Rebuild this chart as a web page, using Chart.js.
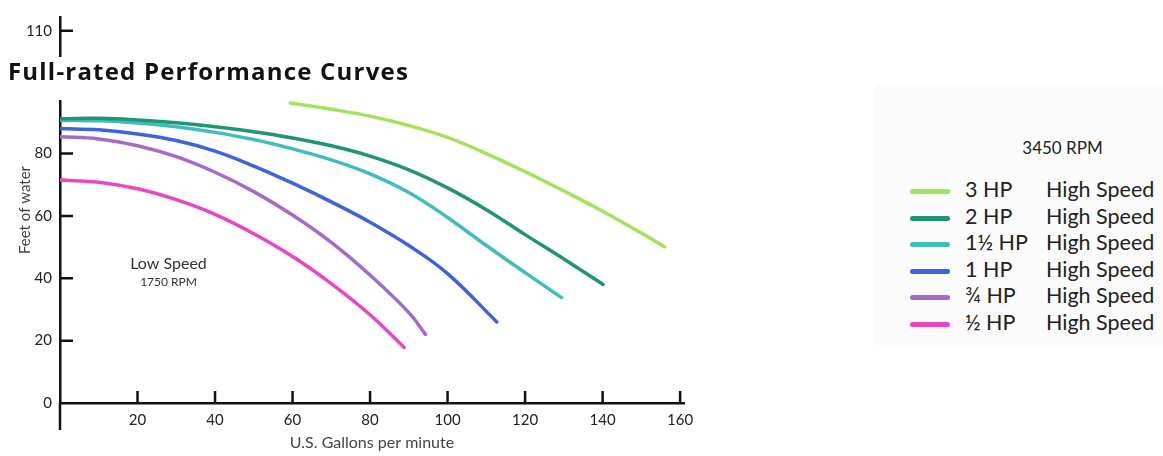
<!DOCTYPE html>
<html>
<head>
<meta charset="utf-8">
<script src="https://cdn.jsdelivr.net/npm/chart.js@4.4.1/dist/chart.umd.min.js"></script>
<style>
  body { margin: 0; background: #fff; font-family: Lato, 'DejaVu Sans', sans-serif; }
  #wrap { position: relative; width: 1163px; height: 456px; overflow: hidden; }
  #chart { position: absolute; left: 0; top: 0; }
  #title {
    position: absolute; left: 0; top: 57px; width: 510px; height: 43px;
    background: #fff; color: #111; font-family: 'Open Sans', sans-serif; font-weight: 700; font-size: 24px;
    letter-spacing: 1.2px; line-height: 28px; padding-left: 8px; box-sizing: border-box;
  }
  #legend {
    position: absolute; left: 875px; top: 85px; width: 288px; height: 260px;
    background: #fbfbfb; color: #222;
  }
  #legend .rpm { position: absolute; left: 0; width: 375px; top: 52px; text-align: center; font-size: 17px; }
  #legend .row { position: absolute; left: 35px; height: 26px; font-size: 21.5px; line-height: 26px; white-space: nowrap; }
  #legend .sw { display: inline-block; width: 40px; height: 5px; border-radius: 3px; vertical-align: middle; margin-right: 15px; }
  #legend .hp { display: inline-block; width: 81px; }
</style>
</head>
<body>
<div id="wrap">
  <canvas id="chart" width="1163" height="456"></canvas>
  <div id="title">Full-rated Performance Curves</div>
  <div id="legend"></div>
</div>
<script>
// pump curves: flow (US gpm) vs head (feet of water)
const hpLabels = ['3 HP', '2 HP', '1½ HP', '1 HP', '¾ HP', '½ HP'];
const speedLabel = 'High Speed';
const colors = ['#a2e25c', '#1f9574', '#3fbcbc', '#3f62e0', '#a56ac9', '#e846c4'];

const gpm3 = [59.4, 70, 80, 90, 100, 110, 120, 130, 140, 150, 156];
const ft3 = [96.2, 94.2, 92, 89, 85.2, 80, 74.2, 68, 61.5, 54.5, 50.1];

const gpm2 = [0, 10, 20, 30, 40, 50, 60, 70, 80, 90, 100, 110, 120, 130, 140.1];
const ft2 = [91.2, 91.3, 90.8, 89.9, 88.6, 87, 85, 82.5, 79.2, 74.8, 69, 62, 54, 46.2, 38];

const gpm15 = [0, 10, 20, 30, 40, 50, 60, 70, 80, 90, 100, 110, 120, 129.4];
const ft15 = [90.6, 90.5, 89.8, 88.6, 86.8, 84.5, 81.5, 78, 73.5, 67.5, 59.5, 50.5, 41.8, 33.8];

const gpm1 = [0, 10, 20, 30, 40, 50, 60, 70, 80, 90, 100, 112.7];
const ft1 = [88, 87.6, 86.3, 84.2, 80.8, 76, 70.5, 64.5, 58, 50.5, 41.5, 26];

const gpm34 = [0, 10, 20, 30, 40, 50, 60, 70, 80, 90, 94.3];
const ft34 = [85.4, 84.7, 82.5, 79, 74, 67.8, 60.3, 51.5, 41, 29, 22];

const gpm12 = [0, 10, 20, 30, 40, 50, 60, 70, 80, 88.8];
const ft12 = [71.5, 70.8, 68.7, 65.2, 60.5, 54.3, 47, 38.3, 28.3, 17.8];

const flows = [gpm3, gpm2, gpm15, gpm1, gpm34, gpm12];
const heads = [ft3, ft2, ft15, ft1, ft34, ft12];

const xTicks = [20, 40, 60, 80, 100, 120, 140, 160];
// the top label of the original sits above the pasted-in title
const yTickValues = [0, 20, 40, 60, 80, 119.4];
const yTickLabels = ['0', '20', '40', '60', '80', '110'];

const lowSpeedNote = ['Low Speed', '1750 RPM'];
const lowSpeedAt = [{ x: 28, y: 44.7 }, { x: 28, y: 38.7 }];

const FONT = 'Lato';

// legend panel
const legend = document.getElementById('legend');
let html = '<div class="rpm">3450 RPM</div>';
hpLabels.forEach((lab, i) => {
  html += `<div class="row" style="top:${91 + i * 26.6}px"><span class="sw" style="background:${colors[i]}"></span>` +
    `<span class="hp">${lab}</span>${speedLabel}</div>`;
});
legend.innerHTML = html;

const extras = {
  id: 'extras',
  afterDraw(chart) {
    const { ctx, chartArea } = chart;
    const x = chart.scales.x, y = chart.scales.y;
    ctx.save();
    ctx.strokeStyle = '#111';
    ctx.lineWidth = 2.5;
    ctx.beginPath();
    x.ticks.forEach((t) => {
      const px = x.getPixelForValue(t.value);
      ctx.moveTo(px, chartArea.bottom);
      ctx.lineTo(px, chartArea.bottom - 12);
    });
    y.ticks.forEach((t) => {
      if (t.value === 0) return;
      const py = y.getPixelForValue(t.value);
      ctx.moveTo(chartArea.left, py);
      ctx.lineTo(chartArea.left + 13, py);
    });
    ctx.moveTo(chartArea.left, chartArea.bottom);
    ctx.lineTo(chartArea.left, chartArea.bottom + 27);
    ctx.stroke();

    ctx.fillStyle = '#333';
    ctx.textAlign = 'center';
    ctx.textBaseline = 'middle';
    ctx.font = `16px ${FONT}`;
    ctx.fillText(lowSpeedNote[0], x.getPixelForValue(lowSpeedAt[0].x), y.getPixelForValue(lowSpeedAt[0].y));
    ctx.font = `12px ${FONT}`;
    ctx.fillText(lowSpeedNote[1], x.getPixelForValue(lowSpeedAt[1].x), y.getPixelForValue(lowSpeedAt[1].y));
    ctx.restore();
  },
};

new Chart(document.getElementById('chart'), {
  type: 'line',
  data: {
    datasets: hpLabels.map((lab, i) => ({
      label: lab + ' ' + speedLabel,
      data: flows[i].map((g, j) => ({ x: g, y: heads[i][j] })),
      borderColor: colors[i],
      borderWidth: 3.5,
      borderCapStyle: 'round',
      pointRadius: 0,
      tension: 0.4,
      fill: false,
    })),
  },
  options: {
    responsive: false,
    animation: false,
    layout: { padding: { top: 9, right: 479, bottom: 0, left: 0 } },
    plugins: { legend: { display: false }, tooltip: { enabled: false } },
    scales: {
      x: {
        type: 'linear',
        min: 0,
        max: 161,
        afterBuildTicks: (s) => { s.ticks = xTicks.map((v) => ({ value: v })); },
        afterFit: (s) => { s.height = 53; },
        grid: { display: false, drawTicks: false },
        border: { display: true, color: '#111', width: 2.5 },
        ticks: { padding: 8, color: '#222', font: { family: FONT, size: 15 } },
        title: {
          display: true,
          text: 'U.S. Gallons per minute',
          color: '#444',
          font: { family: FONT, size: 16 },
          padding: { top: 0, bottom: 4 },
        },
      },
      y: {
        type: 'linear',
        min: 0,
        max: 123.8,
        afterBuildTicks: (s) => { s.ticks = yTickValues.map((v) => ({ value: v })); },
        afterFit: (s) => { s.width = 60; },
        grid: { display: false, drawTicks: false },
        border: { display: true, color: '#111', width: 2.5 },
        ticks: {
          padding: 8,
          color: '#222',
          font: { family: FONT, size: 15 },
          callback: (v, i) => yTickLabels[i],
        },
        title: {
          display: true,
          text: 'Feet of water',
          color: '#444',
          font: { family: FONT, size: 15 },
          padding: { top: 16, bottom: 0 },
        },
      },
    },
  },
  plugins: [extras],
});
</script>
</body>
</html>
